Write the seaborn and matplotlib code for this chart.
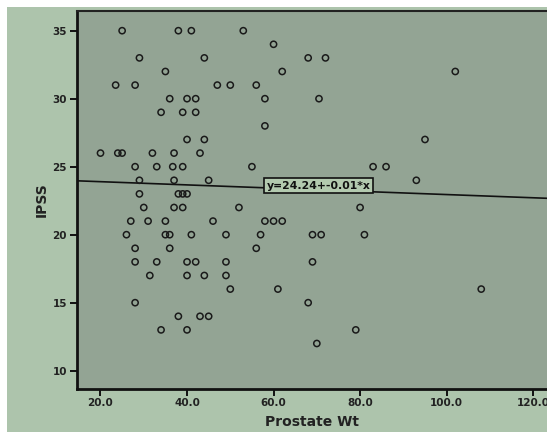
import numpy as np, pandas as pd, matplotlib.pyplot as plt
import seaborn as sns
from matplotlib.patches import Rectangle

### data ###
prostate_wt = [25, 38, 41, 53,
               60,
               29, 44, 68, 72,
               35, 62, 102,
               23.5, 28, 47, 50, 56,
               36, 40, 42, 58, 70.5,
               34, 39, 42,
               58,
               40, 44, 95,
               20, 24, 25, 32, 37, 43,
               28, 33, 36.7, 39, 55, 83, 86,
               29, 37, 45, 93,
               29, 38, 39, 40,
               30, 37, 39, 52, 80,
               27, 31, 35, 46, 58, 60, 62,
               26, 35, 36, 41, 49, 57, 69, 71, 81,
               28, 36, 56,
               28, 33, 40, 42, 49, 69,
               31.4, 40, 44, 49,
               50, 61, 108,
               28, 68,
               38, 43, 45,
               34, 40, 79,
               70]
ipss = [35]*4 + [34] + [33]*4 + [32]*3 + [31]*5 + [30]*5 + [29]*3 + [28] + [27]*3 \
     + [26]*6 + [25]*7 + [24]*4 + [23]*4 + [22]*5 + [21]*7 + [20]*9 + [19]*3 \
     + [18]*6 + [17]*4 + [16]*3 + [15]*2 + [14]*3 + [13]*3 + [12]

xticks = [20, 40, 60, 80, 100, 120]
yticks = [10, 15, 20, 25, 30, 35]
fit_label = 'y=24.24+-0.01*x'

df = pd.DataFrame({'Prostate Wt': prostate_wt, 'IPSS': ipss})

panel_green = '#adc4ac'
plot_green = '#93a494'

fig = plt.figure(figsize=(5.47, 4.32), dpi=100, facecolor='white')
bg = Rectangle((7/547, 0), 1, 1 - 7/432, transform=fig.transFigure,
               facecolor=panel_green, edgecolor='none', zorder=-10)
fig.add_artist(bg)
ax = fig.add_axes([76.7/547, 1 - 388.5/432, 1 - 76.7/547, (388.5 - 10.7)/432])
ax.set_zorder(5)
ax.set_facecolor(plot_green)
ax.set_xlim(14.5, 123.2)
ax.set_ylim(8.69, 36.47)

sns.scatterplot(data=df, x='Prostate Wt', y='IPSS', ax=ax, marker='o', s=20,
                facecolor='none', edgecolor='#1a1a1a', linewidth=1.1, zorder=3)
sns.regplot(data=df, x='Prostate Wt', y='IPSS', ax=ax, scatter=False, ci=None,
            truncate=False, line_kws=dict(color='#111111', lw=1.2, zorder=2))

ax.text(70.4, 23.6, fit_label, ha='center', va='center', fontsize=7.8, fontweight='bold',
        color='#111111', zorder=4,
        bbox=dict(boxstyle='square,pad=0.25', facecolor='#b3caaf', edgecolor='#111111', lw=1.2))

ax.set_xticks(xticks)
ax.set_xticklabels([f'{t:.1f}' for t in xticks])
ax.set_yticks(yticks)
ax.tick_params(direction='out', length=5, width=1.4, color='#111111', labelsize=7.5,
               pad=2, labelcolor='#222222')
for lab in ax.get_xticklabels() + ax.get_yticklabels():
    lab.set_fontweight('bold')

for side in ['left', 'bottom']:
    ax.spines[side].set_linewidth(2)
    ax.spines[side].set_color('#111111')
ax.spines['top'].set_linewidth(1.5)
ax.spines['top'].set_color('#222222')
ax.spines['right'].set_visible(False)

ax.set_xlabel('Prostate Wt', fontsize=10, fontweight='bold', color='#222222', labelpad=5)
ax.set_ylabel('IPSS', fontsize=10, fontweight='bold', color='#222222', labelpad=3)

plt.savefig('out.png', dpi=100, facecolor=fig.get_facecolor())
